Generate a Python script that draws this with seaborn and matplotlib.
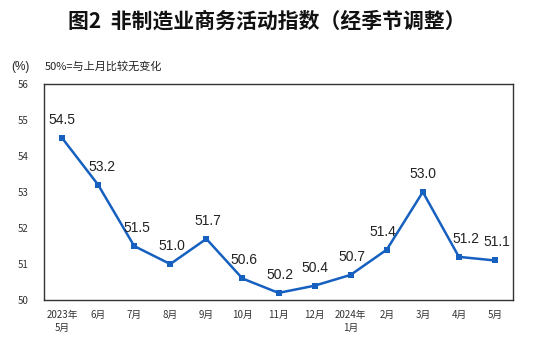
import matplotlib
matplotlib.use("Agg")
import matplotlib.pyplot as plt
import seaborn as sns
import pandas as pd

months = ["2023年\n5月", "6月", "7月", "8月", "9月", "10月", "11月", "12月",
          "2024年\n1月", "2月", "3月", "4月", "5月"]
values = [54.5, 53.2, 51.5, 51.0, 51.7, 50.6, 50.2, 50.4, 50.7, 51.4, 53.0, 51.2, 51.1]
yticks = [50, 51, 52, 53, 54, 55, 56]

# label horizontal nudges (points) — styling only
label_dx = [0, 3, 2, 1, 1, 1, 1, 0, 1, -3, 0, 5, 1]

sns.set_theme(style="white")
plt.rcParams['font.family'] = ['Noto Sans CJK SC', 'DejaVu Sans']

df = pd.DataFrame({"x": range(len(values)), "v": values})

fig = plt.figure(figsize=(5.34, 3.51), dpi=100)
ax = fig.add_axes([0.0824, 0.145, 0.8783, 0.616])
color = "#1660C0"
sns.lineplot(data=df, x="x", y="v", ax=ax, color=color, linewidth=1.8,
             marker="s", markersize=5, markeredgewidth=0, markerfacecolor=color)

for i, v in enumerate(values):
    ax.annotate(f"{v:.1f}", (i, v), xytext=(label_dx[i], 13), textcoords="offset points",
                ha="center", va="center", fontsize=10, color="#222222",
                family=["Liberation Sans", "DejaVu Sans"])

ax.set_xlim(-0.5, len(values) - 0.5)
ax.set_ylim(50, 56)
ax.set_yticks(yticks)
ax.set_yticklabels([str(t) for t in yticks], fontsize=7, color="#333333")
ax.set_xticks(range(len(values)))
ax.set_xticklabels(months, fontsize=7, color="#333333", linespacing=1.4)
ax.set_xticks([i + 0.5 for i in range(len(values) - 1)], minor=True)
ax.tick_params(axis="x", which="major", length=0, pad=7)
ax.tick_params(axis="x", which="minor", direction="in", length=4, width=0.8, color="#333333")
ax.tick_params(axis="y", direction="out", length=3, width=0.8, color="#333333", pad=8)
ax.set_xlabel("")
ax.set_ylabel("")
for s in ax.spines.values():
    s.set_color("#333333")
    s.set_linewidth(1.0)
    s.set_visible(True)

fig.text(0.5, 0.94, "图2  非制造业商务活动指数（经季节调整）", ha="center", va="center",
         fontsize=15, fontweight="bold", color="#111111")
fig.text(0.022, 0.81, "(%)", ha="left", va="center", fontsize=8.5, color="#222222",
         family=["Liberation Sans", "DejaVu Sans"])
fig.text(0.084, 0.81, "50%=与上月比较无变化", ha="left", va="center", fontsize=8, color="#222222")

fig.savefig("out.png", dpi=100)
